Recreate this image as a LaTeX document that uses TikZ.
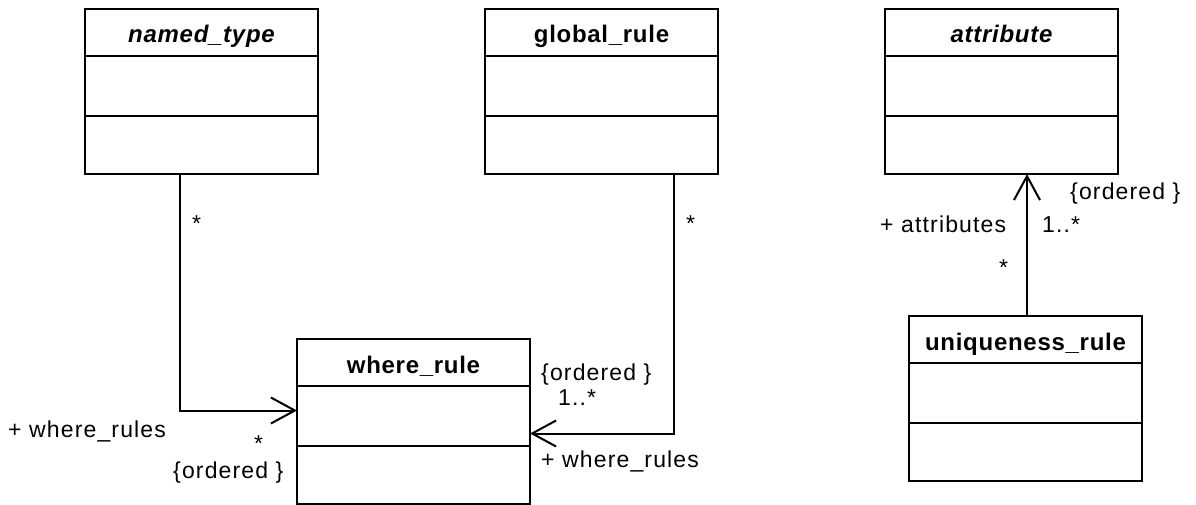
\documentclass[tikz,border=0pt]{standalone}
\usepackage{fontspec}
\setmainfont{Liberation Sans}
\newfontfamily\rolefont[LetterSpace=5]{Liberation Sans}
\newfontfamily\titlefont[LetterSpace=3]{Liberation Sans}
\usetikzlibrary{arrows.meta}

\tikzset{
  classbox/.style={draw, line width=1.9pt, minimum width=233pt, minimum height=165pt,
    inner sep=0pt, outer sep=0pt, anchor=north west},
  classtitle/.style={anchor=base, inner sep=0pt, font=\titlefont\fontsize{24}{28}\selectfont\bfseries},
  divider/.style={line width=1.9pt},
  assoc/.style={line width=2pt, -{Straight Barb[length=24pt,width=26pt,line width=2pt]}},
  role/.style={anchor=base west, inner sep=0pt, font=\rolefont\fontsize{23}{27}\selectfont}
}

% UML class with a title compartment and two empty compartments
\newcommand\umlclass[4]{%
  \node[classbox] (#1) at (#2,#3) {};
  \node[classtitle] (#1-title) at ([yshift=-34pt]#1.north) {#4};
  \draw[divider] ([yshift=-47pt]#1.north west) -- ([yshift=-47pt]#1.north east);
  \draw[divider] ([yshift=-107pt]#1.north west) -- ([yshift=-107pt]#1.north east);
}

\begin{document}
\begin{tikzpicture}[x=1pt, y=-1pt]
  \useasboundingbox (0,0) rectangle (1196,505);

  \umlclass{named}{85}{9}{\itshape named\_type}
  \umlclass{global}{485}{9}{global\_rule}
  \umlclass{attr}{885}{9}{\itshape attribute}
  \umlclass{where}{297}{339}{where\_rule}
  \umlclass{uniq}{909}{316}{uniqueness\_rule}

  % named_type -> where_rule
  \draw[assoc] ([xshift=-22pt]named.south) |- ([yshift=11pt]where.west);
  \node[role] (nt-mult) at (192,231) {*};
  \node[role] (nt-role) at (8,437) {+ where\_rules};
  \node[role] (nt-wmult) at (254,451) {*};
  \node[role] (nt-order) at (173,478) {\{ordered \}};

  % global_rule -> where_rule
  \draw[assoc] ([xshift=72.5pt]global.south) |- ([yshift=-12pt]where.east);
  \node[role] (gr-mult) at (686,231) {*};
  \node[role] (gr-order) at (541,380) {\{ordered \}};
  \node[role] (gr-wmult) at (558,405) {1..*};
  \node[role] (gr-role) at (541,467) {+ where\_rules};

  % uniqueness_rule -> attribute
  \draw[assoc] ([xshift=1.5pt]uniq.north) -- ([xshift=1.5pt]uniq.north |- attr.south);
  \node[role] (ur-order) at (1070,200) {\{ordered \}};
  \node[role] (ur-role) at (880,232) {+ attributes};
  \node[role] (ur-amult) at (1042,232) {1..*};
  \node[role] (ur-mult) at (999,275) {*};
\end{tikzpicture}
\end{document}
